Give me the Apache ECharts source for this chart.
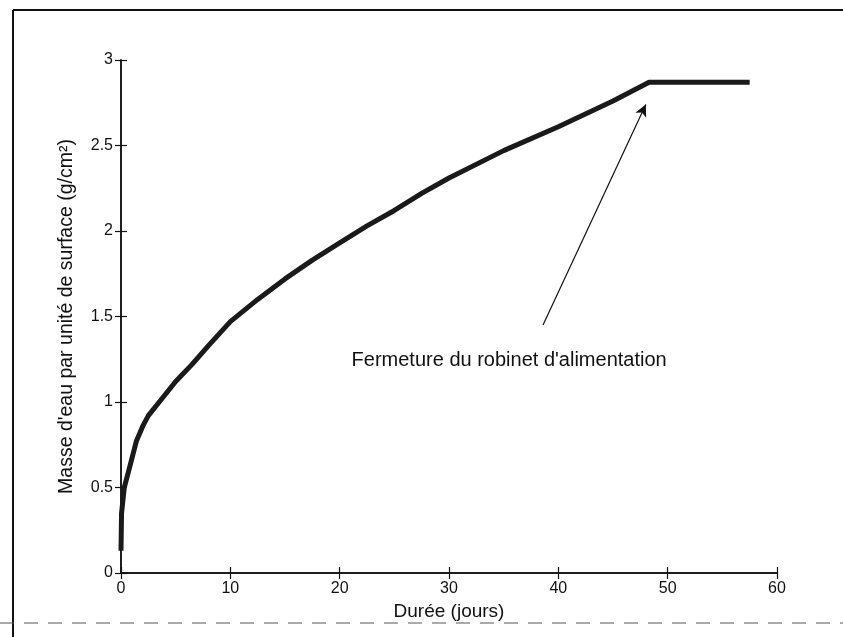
<!DOCTYPE html>
<html>
<head>
<meta charset="utf-8">
<script src="https://cdn.jsdelivr.net/npm/echarts@6/dist/echarts.min.js"></script>
<style>html,body{margin:0;padding:0;background:#fff;}#c{width:843px;height:637px;}</style>
</head>
<body>
<div id="c"></div>
<script>
var days = [0, 0.05, 0.3, 0.8, 1.4, 2.0, 2.5, 3.5, 5, 6.5, 8, 10, 12.5, 15, 17.5, 20, 22.5, 25, 27.5, 30, 35, 40, 45, 48.3, 57.5];
var mass = [0.13, 0.35, 0.5, 0.62, 0.77, 0.86, 0.92, 1.0, 1.12, 1.22, 1.33, 1.47, 1.6, 1.72, 1.83, 1.93, 2.03, 2.12, 2.22, 2.31, 2.47, 2.61, 2.76, 2.87, 2.87];
var xTicks = [0, 10, 20, 30, 40, 50, 60];
var yTicks = [0, 0.5, 1, 1.5, 2, 2.5, 3];
var arrowFrom = [38.6, 1.45];
var arrowTo = [48.0, 2.74];
var noteAt = [35.5, 1.24];
var noteText = "Fermeture du robinet d'alimentation";
var xName = "Durée (jours)";
var yName = "Masse d'eau par unité de surface (g/cm²)";

var FONT = "'Liberation Sans', Arial, sans-serif";
var chart = echarts.init(document.getElementById('c'), null, {renderer: 'canvas'});
var pts = days.map(function (d, i) { return [d, mass[i]]; });
var axisLine = {show: true, lineStyle: {color: '#111', width: 1.5}};
var tick = {show: true, inside: true, length: 6, lineStyle: {color: '#111', width: 1.2}};
chart.setOption({
  animation: false,
  backgroundColor: '#fff',
  grid: {left: 121, right: 66, top: 60, bottom: 64, containLabel: false},
  xAxis: [{
    type: 'value', min: 0, max: 60, interval: 10,
    axisLine: axisLine, axisTick: tick, splitLine: {show: false},
    axisLabel: {color: '#111', fontFamily: FONT, fontSize: 16, margin: 8,
      formatter: function (v) { return xTicks.indexOf(v) >= 0 ? String(v) : ''; }},
    name: xName, nameLocation: 'middle', nameGap: 26,
    nameTextStyle: {color: '#111', fontFamily: FONT, fontSize: 19}
  }, {
    type: 'value', position: 'top', min: 0, max: 60, interval: 10,
    axisLine: axisLine, axisTick: tick, axisLabel: {show: false}, splitLine: {show: false}
  }],
  yAxis: [{
    type: 'value', min: 0, max: 3, interval: 0.5,
    axisLine: axisLine, axisTick: tick, splitLine: {show: false},
    axisLabel: {color: '#111', fontFamily: FONT, fontSize: 16, margin: 8,
      formatter: function (v) { return yTicks.indexOf(v) >= 0 ? String(v) : ''; }},
    name: yName, nameLocation: 'middle', nameGap: 44, nameRotate: 90,
    nameTextStyle: {color: '#111', fontFamily: FONT, fontSize: 19.5}
  }, {
    type: 'value', position: 'right', min: 0, max: 3, interval: 0.5,
    axisLine: axisLine, axisTick: tick, axisLabel: {show: false}, splitLine: {show: false}
  }],
  series: [{
    type: 'line', data: pts, showSymbol: false, smooth: false,
    lineStyle: {color: '#1a1a1a', width: 5, join: 'round'},
    markLine: {
      silent: true, symbol: ['none', 'arrow'], symbolSize: [9, 12],
      lineStyle: {color: '#111', width: 1.2, type: 'solid'},
      label: {show: false},
      data: [[{coord: arrowFrom}, {coord: arrowTo}]]
    },
    markPoint: {
      silent: true, symbol: 'circle', symbolSize: 0,
      label: {show: true, position: 'inside', color: '#111', fontFamily: FONT, fontSize: 20,
        formatter: noteText},
      data: [{coord: noteAt}]
    }
  }],
  graphic: [
    {type: 'line', shape: {x1: 13, y1: 10, x2: 843, y2: 10}, style: {stroke: '#111', lineWidth: 2}},
    {type: 'line', shape: {x1: 13, y1: 10, x2: 13, y2: 637}, style: {stroke: '#111', lineWidth: 2}},
    {type: 'line', shape: {x1: 0, y1: 623, x2: 843, y2: 623}, style: {stroke: '#555', lineWidth: 1, lineDash: [14, 10]}}
  ]
});
</script>
</body>
</html>
